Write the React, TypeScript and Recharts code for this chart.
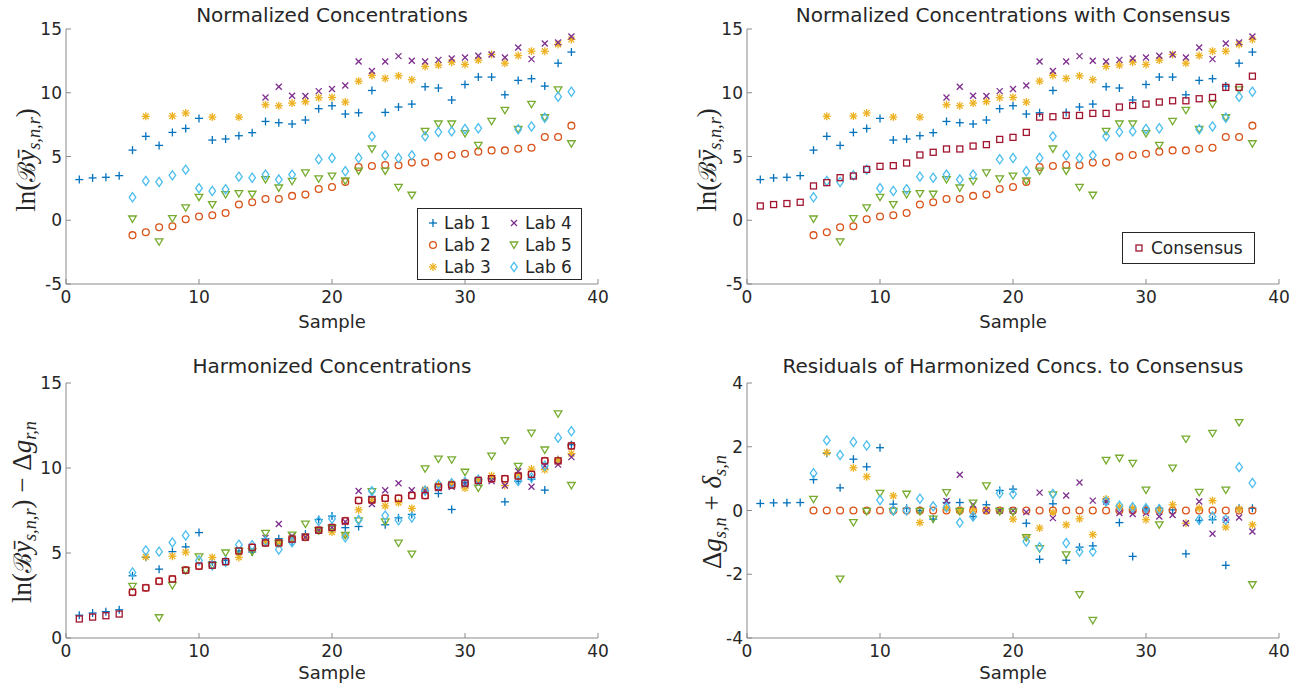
import React from 'react';
import { ScatterChart, Scatter, XAxis, YAxis } from 'recharts';

// ---------- data ----------
const samples = [1, 2, 3, 4, 5, 6, 7, 8, 9, 10, 11, 12, 13, 14, 15, 16, 17, 18, 19, 20, 21, 22, 23, 24, 25, 26, 27, 28, 29, 30, 31, 32, 33, 34, 35, 36, 37, 38];
const xTicks = [0, 10, 20, 30, 40];
const yTicksNorm = [-5, 0, 5, 10, 15];
const yTicksHarm = [0, 5, 10, 15];
const yTicksRes = [-4, -2, 0, 2, 4];

type V = number | null;
const _ = null;

// Normalized concentrations (panels 1 & 2)
const lab1Norm: V[] = [3.19, 3.32, 3.37, 3.5, 5.5, 6.58, 5.87, 6.89, 7.2, 7.99, 6.29, 6.37, 6.63, 6.87, 7.75, 7.65, 7.55, 7.86, 8.75, 8.98, 8.33, 8.43, 10.18, 8.46, 8.88, 9.11, 10.47, 10.37, 9.43, 10.65, 11.23, 11.23, 9.84, 10.97, 11.1, 10.52, 12.32, 13.19];
const lab2Norm: V[] = [_, _, _, _, -1.17, -0.94, -0.55, -0.47, 0.08, 0.29, 0.39, 0.57, 1.23, 1.41, 1.67, 1.67, 1.91, 2.01, 2.45, 2.61, 3.0, 4.18, 4.26, 4.33, 4.31, 4.52, 4.52, 4.99, 5.12, 5.22, 5.38, 5.48, 5.48, 5.61, 5.69, 6.53, 6.53, 7.42];
const lab3Norm: V[] = [_, _, _, _, _, 8.15, _, 8.17, 8.41, _, 8.09, _, 8.09, _, 9.06, 8.98, 9.19, 9.3, 9.61, 9.63, 9.27, 10.91, 11.36, 11.12, 11.33, 11.02, 12.06, 12.17, 12.4, 12.22, 12.56, 13.0, 12.32, 12.92, 13.26, 13.26, 13.79, 14.18];
const lab4Norm: V[] = [_, _, _, _, _, _, _, _, _, _, _, _, _, _, 9.63, 10.47, 9.77, 9.74, 10.13, 10.29, 10.57, 12.45, 11.7, 12.45, 12.87, 12.51, 12.45, 12.58, 12.69, 12.77, 12.9, 13.0, 12.77, 13.55, 12.64, 13.86, 13.94, 14.41];
const lab5Norm: V[] = [_, _, _, _, 0.1, _, -1.7, 0.13, 0.97, 1.8, 1.23, 2.01, 2.09, 2.04, 3.19, 2.53, 3.05, 3.71, 3.24, 3.46, 3.08, 3.86, 5.59, 3.86, 2.58, 1.96, 6.97, 7.55, 7.55, 6.79, 5.87, 7.75, 8.62, 7.13, 9.09, 8.04, 10.23, 6.0];
const lab6Norm: V[] = [_, _, _, _, 1.8, 3.08, 3.0, 3.52, 3.97, 2.51, 2.3, 2.43, 3.42, 3.34, 3.58, 3.19, 3.58, _, 4.78, 4.88, 3.84, 4.88, 6.58, 5.09, 4.88, 5.09, 6.58, 6.92, 6.97, 7.15, 7.21, _, _, 7.13, 7.36, 8.04, 9.69, 10.08];
const consensus: V[] = [1.12, 1.23, 1.31, 1.41, 2.69, 2.95, 3.34, 3.47, 3.99, 4.23, 4.28, 4.49, 5.12, 5.33, 5.59, 5.59, 5.82, 5.93, 6.34, 6.5, 6.89, 8.09, 8.12, 8.22, 8.22, 8.38, 8.38, 8.88, 9.0, 9.11, 9.27, 9.37, 9.37, 9.53, 9.63, 10.42, 10.42, 11.3];

// Harmonized concentrations (panel 3)
const lab1Harm: V[] = [1.34, 1.47, 1.55, 1.66, 3.66, 4.75, 4.05, 5.08, 5.36, 6.2, 4.48, 4.56, 5.12, 5.06, 5.84, 5.84, 5.63, 6.11, 6.97, 7.17, 6.49, 6.56, 8.33, 6.66, 7.07, 7.27, 8.66, 8.5, 7.56, 9.16, 9.34, 9.39, 8.01, 9.22, 9.34, 8.7, 10.49, 11.37];
const lab2Harm: V[] = [_, _, _, _, 2.69, 2.95, 3.34, 3.47, 3.99, 4.23, 4.28, 4.49, 5.12, 5.33, 5.59, 5.59, 5.82, 5.93, 6.34, 6.5, 6.89, 8.09, 8.12, 8.22, 8.22, 8.38, 8.38, 8.88, 9.0, 9.11, 9.27, 9.37, 9.37, 9.53, 9.63, 10.42, 10.42, 11.3];
const lab3Harm: V[] = [_, _, _, _, _, 4.77, _, 4.81, 5.05, _, 4.74, _, 4.74, _, 5.66, 5.59, 5.84, 5.93, 6.34, 6.23, 6.04, 7.54, 8.06, 7.77, 7.96, 7.62, 8.74, 9.0, 9.07, 8.82, 9.27, 9.55, 8.97, 9.6, 9.94, 9.9, 10.46, 10.85];
const lab4Harm: V[] = [_, _, _, _, _, _, _, _, _, _, _, _, _, _, 5.89, 6.71, 6.0, 5.93, 6.34, 6.5, 6.84, 8.65, 7.88, 8.69, 9.1, 8.69, 8.66, 8.8, 8.89, 9.03, 9.08, 9.23, 8.97, 9.81, 8.9, 10.13, 10.2, 10.64];
const lab5Harm: V[] = [_, _, _, _, 3.04, _, 1.19, 3.09, 3.96, 4.77, 4.25, 5.0, 5.09, 5.06, 6.15, 5.56, 6.05, 6.7, 6.31, 6.45, 6.04, 6.89, 8.61, 6.83, 5.58, 4.93, 9.95, 10.52, 10.48, 9.75, 8.82, 10.7, 11.61, 10.1, 12.05, 11.06, 13.18, 8.97];
const lab6Harm: V[] = [_, _, _, _, 3.86, 5.15, 5.08, 5.62, 6.03, 4.56, 4.28, 4.49, 5.49, 5.46, 5.69, 5.21, 5.63, _, 6.88, 7.02, 5.92, 6.94, 8.64, 7.2, 6.93, 7.09, 8.66, 9.03, 9.1, 9.18, 9.31, _, _, 9.24, 9.44, 10.13, 11.78, 12.16];

// Residuals to consensus (panel 4)
const lab1Res: V[] = [0.22, 0.24, 0.24, 0.25, 0.97, 1.8, 0.71, 1.61, 1.37, 1.97, 0.2, 0.07, 0.0, -0.27, 0.25, 0.25, -0.19, 0.18, 0.63, 0.67, -0.4, -1.53, 0.21, -1.56, -1.15, -1.11, 0.28, -0.38, -1.44, 0.05, 0.07, 0.02, -1.36, -0.31, -0.29, -1.72, 0.07, 0.07];
const lab2Res: V[] = [_, _, _, _, 0, 0, 0, 0, 0, 0, 0, 0, 0, 0, 0, 0, 0, 0, 0, 0, 0, 0, 0, 0, 0, 0, 0, 0, 0, 0, 0, 0, 0, 0, 0, 0, 0, 0];
const lab3Res: V[] = [_, _, _, _, _, 1.82, _, 1.34, 1.06, _, 0.46, _, -0.38, _, 0.07, 0.0, 0.02, 0.0, 0.0, -0.27, -0.85, -0.55, -0.06, -0.45, -0.26, -0.76, 0.36, 0.12, 0.07, -0.29, 0.0, 0.18, -0.4, 0.07, 0.31, -0.52, 0.04, -0.45];
const lab4Res: V[] = [_, _, _, _, _, _, _, _, _, _, _, _, _, _, 0.3, 1.12, 0.18, 0.0, 0.0, 0.0, -0.05, 0.56, -0.24, 0.47, 0.88, 0.31, 0.28, -0.08, -0.11, -0.08, -0.19, -0.14, -0.4, 0.28, -0.73, -0.29, -0.22, -0.66];
const lab5Res: V[] = [_, _, _, _, 0.35, _, -2.15, -0.38, -0.03, 0.54, -0.03, 0.51, -0.03, -0.27, 0.56, -0.03, 0.23, 0.77, -0.03, -0.05, -0.85, -1.2, 0.49, -1.39, -2.64, -3.45, 1.57, 1.64, 1.48, 0.64, -0.45, 1.33, 2.24, 0.57, 2.42, 0.64, 2.76, -2.33];
const lab6Res: V[] = [_, _, _, _, 1.17, 2.2, 1.74, 2.15, 2.04, 0.33, 0.0, 0.0, 0.37, 0.13, 0.1, -0.38, -0.19, _, 0.54, 0.52, -0.97, -1.15, 0.52, -1.02, -1.29, -1.29, 0.28, 0.15, 0.1, 0.07, 0.04, _, _, -0.29, -0.19, -0.29, 1.36, 0.86];

const labNames = ['Lab 1', 'Lab 2', 'Lab 3', 'Lab 4', 'Lab 5', 'Lab 6'];

// ---------- styling ----------
const C1 = '#0072BD';
const C2 = '#D95319';
const C3 = '#EDB120';
const C4 = '#7E2F8E';
const C5 = '#77AC30';
const C6 = '#4DBEEE';
const C7 = '#A2142F';
const AXIS = '#8a8a8a';
const TEXT = '#262626';
const FONT = '"DejaVu Sans", sans-serif';
const MATH = '"Liberation Serif", "DejaVu Serif", serif';

type Kind = 'plus' | 'circle' | 'star' | 'cross' | 'tri' | 'diamond' | 'square';
const kinds: Kind[] = ['plus', 'circle', 'star', 'cross', 'tri', 'diamond'];
const colors = [C1, C2, C3, C4, C5, C6];

function Marker({ kind, cx, cy, color }: { kind: Kind; cx: number; cy: number; color: string }) {
  const sw = 1.3;
  switch (kind) {
    case 'plus':
      return (
        <g stroke={color} strokeWidth={sw} fill="none">
          <line x1={cx - 4} y1={cy} x2={cx + 4} y2={cy} />
          <line x1={cx} y1={cy - 4} x2={cx} y2={cy + 4} />
        </g>
      );
    case 'circle':
      return <circle cx={cx} cy={cy} r={3.4} fill="none" stroke={color} strokeWidth={sw} />;
    case 'star':
      return (
        <g stroke={color} strokeWidth={sw} fill="none">
          <line x1={cx - 4} y1={cy} x2={cx + 4} y2={cy} />
          <line x1={cx} y1={cy - 4} x2={cx} y2={cy + 4} />
          <line x1={cx - 2.9} y1={cy - 2.9} x2={cx + 2.9} y2={cy + 2.9} />
          <line x1={cx - 2.9} y1={cy + 2.9} x2={cx + 2.9} y2={cy - 2.9} />
        </g>
      );
    case 'cross':
      return (
        <g stroke={color} strokeWidth={sw} fill="none">
          <line x1={cx - 3} y1={cy - 3} x2={cx + 3} y2={cy + 3} />
          <line x1={cx - 3} y1={cy + 3} x2={cx + 3} y2={cy - 3} />
        </g>
      );
    case 'tri':
      return (
        <polygon
          points={`${cx - 3.8},${cy - 3} ${cx + 3.8},${cy - 3} ${cx},${cy + 3.4}`}
          fill="none"
          stroke={color}
          strokeWidth={sw}
        />
      );
    case 'diamond':
      return (
        <polygon
          points={`${cx},${cy - 4.6} ${cx + 3.3},${cy} ${cx},${cy + 4.6} ${cx - 3.3},${cy}`}
          fill="none"
          stroke={color}
          strokeWidth={sw}
        />
      );
    case 'square':
      return <rect x={cx - 3} y={cy - 3} width={6} height={6} fill="none" stroke={color} strokeWidth={sw} />;
  }
  return null;
}

const toPoints = (vals: V[]) =>
  samples.map((s, i) => ({ x: s, y: vals[i] })).filter((p) => p.y !== null) as { x: number; y: number }[];

type Series = { vals: V[]; kind: Kind; color: string; name: string };

const makeLabs = (arrs: V[][]): Series[] =>
  arrs.map((a, i) => ({ vals: a, kind: kinds[i], color: colors[i], name: labNames[i] }));

const W = 620;
const H = 340;

function Panel({
  left,
  top,
  domain,
  ticks,
  series,
}: {
  left: number;
  top: number;
  domain: [number, number];
  ticks: number[];
  series: Series[];
}) {
  const tickStyle = { fill: TEXT, fontSize: 17, fontFamily: FONT };
  return (
    <div style={{ position: 'absolute', left, top, width: W, height: H }}>
      <ScatterChart width={W} height={H} margin={{ top: 29, right: 22, bottom: 26, left: 26 }}>
        <XAxis
          type="number"
          dataKey="x"
          domain={[0, 40]}
          ticks={xTicks}
          allowDataOverflow
          height={30}
          tickSize={-5}
          tickMargin={12}
          axisLine={{ stroke: AXIS }}
          tickLine={{ stroke: AXIS }}
          tick={tickStyle}
        />
        <XAxis
          xAxisId="top"
          orientation="top"
          type="number"
          domain={[0, 40]}
          ticks={xTicks}
          allowDataOverflow
          height={0}
          tickSize={-5}
          axisLine={{ stroke: AXIS }}
          tickLine={{ stroke: AXIS }}
          tick={false}
        />
        <YAxis
          type="number"
          dataKey="y"
          domain={domain}
          ticks={ticks}
          allowDataOverflow
          width={40}
          tickSize={-5}
          tickMargin={9}
          axisLine={{ stroke: AXIS }}
          tickLine={{ stroke: AXIS }}
          tick={tickStyle}
        />
        <YAxis
          yAxisId="right"
          orientation="right"
          type="number"
          domain={domain}
          ticks={ticks}
          allowDataOverflow
          width={0}
          tickSize={-5}
          axisLine={{ stroke: AXIS }}
          tickLine={{ stroke: AXIS }}
          tick={false}
        />
        {series.map((s) => (
          <Scatter
            key={s.name}
            name={s.name}
            data={toPoints(s.vals)}
            isAnimationActive={false}
            shape={(p: any) => <Marker kind={s.kind} cx={p.cx} cy={p.cy} color={s.color} />}
          />
        ))}
      </ScatterChart>
    </div>
  );
}

function Title({ text, cx, cy }: { text: string; cx: number; cy: number }) {
  return (
    <div
      style={{
        position: 'absolute',
        left: cx,
        top: cy,
        transform: 'translate(-50%, -50%)',
        whiteSpace: 'nowrap',
        fontFamily: FONT,
        fontSize: 20,
        color: TEXT,
        lineHeight: 1,
      }}
    >
      {text}
    </div>
  );
}

function XLabel({ cx, cy }: { cx: number; cy: number }) {
  return (
    <div
      style={{
        position: 'absolute',
        left: cx,
        top: cy,
        transform: 'translate(-50%, -50%)',
        whiteSpace: 'nowrap',
        fontFamily: FONT,
        fontSize: 18,
        color: TEXT,
        lineHeight: 1,
      }}
    >
      Sample
    </div>
  );
}

function YLabel({ cx, cy, children }: { cx: number; cy: number; children: React.ReactNode }) {
  return (
    <div
      style={{
        position: 'absolute',
        left: cx,
        top: cy,
        transform: 'translate(-50%, -50%) rotate(-90deg)',
        whiteSpace: 'nowrap',
        fontFamily: MATH,
        fontSize: 27,
        color: TEXT,
        lineHeight: 1,
      }}
    >
      {children}
    </div>
  );
}

const subStyle: React.CSSProperties = { fontSize: '0.68em', fontStyle: 'italic', verticalAlign: '-0.3em' };

function LnBy() {
  return (
    <span>
      ln(<span style={{ fontFamily: '"DejaVu Serif", serif', fontSize: '0.9em' }}>ℬ</span>
      <i>ȳ</i>
      <span style={subStyle}>s,n,r</span>)
    </span>
  );
}

function LegendMarker({ kind, color }: { kind: Kind; color: string }) {
  return (
    <svg width={14} height={14} style={{ display: 'block' }}>
      <Marker kind={kind} cx={7} cy={7} color={color} />
    </svg>
  );
}

function LegendBox() {
  const order = [0, 3, 1, 4, 2, 5];
  return (
    <div
      style={{
        position: 'absolute',
        left: 417,
        top: 208,
        width: 165,
        height: 72,
        boxSizing: 'border-box',
        border: `1px solid ${TEXT}`,
        background: '#fff',
      }}
    >
      {order.map((idx, k) => {
        const col = k % 2;
        const row = Math.floor(k / 2);
        return (
          <div
            key={idx}
            style={{
              position: 'absolute',
              left: col === 0 ? 8 : 89,
              top: 3 + row * 22,
              height: 22,
              display: 'flex',
              alignItems: 'center',
              gap: 4,
              fontFamily: FONT,
              fontSize: 17,
              color: TEXT,
              whiteSpace: 'nowrap',
            }}
          >
            <LegendMarker kind={kinds[idx]} color={colors[idx]} />
            <span>{labNames[idx]}</span>
          </div>
        );
      })}
    </div>
  );
}

function ConsensusLegend() {
  return (
    <div
      style={{
        position: 'absolute',
        left: 1122,
        top: 232,
        width: 133,
        height: 32,
        boxSizing: 'border-box',
        border: `1px solid ${TEXT}`,
        background: '#fff',
        display: 'flex',
        alignItems: 'center',
        gap: 5,
        paddingLeft: 9,
        fontFamily: FONT,
        fontSize: 17,
        color: TEXT,
      }}
    >
      <LegendMarker kind="square" color={C7} />
      <span>Consensus</span>
    </div>
  );
}

export default function App() {
  const normLabs = makeLabs([lab1Norm, lab2Norm, lab3Norm, lab4Norm, lab5Norm, lab6Norm]);
  const consSeries: Series = { vals: consensus, kind: 'square', color: C7, name: 'Consensus' };
  const harmLabs = makeLabs([lab1Harm, lab2Harm, lab3Harm, lab4Harm, lab5Harm, lab6Harm]);
  const resLabs = makeLabs([lab1Res, lab2Res, lab3Res, lab4Res, lab5Res, lab6Res]);

  return (
    <div style={{ position: 'absolute', left: 0, top: 0, width: 1316, height: 692, background: '#fff', overflow: 'hidden' }}>
      <Panel left={0} top={0} domain={[-5, 15]} ticks={yTicksNorm} series={normLabs} />
      <Panel left={681} top={0} domain={[-5, 15]} ticks={yTicksNorm} series={[...normLabs, consSeries]} />
      <Panel left={0} top={354} domain={[0, 15]} ticks={yTicksHarm} series={[...harmLabs, consSeries]} />
      <Panel left={681} top={354} domain={[-4, 4]} ticks={yTicksRes} series={resLabs} />

      <Title text="Normalized Concentrations" cx={332} cy={15} />
      <Title text="Normalized Concentrations with Consensus" cx={1013} cy={15} />
      <Title text="Harmonized Concentrations" cx={332} cy={366} />
      <Title text="Residuals of Harmonized Concs. to Consensus" cx={1013} cy={366} />

      <XLabel cx={332} cy={322} />
      <XLabel cx={1013} cy={322} />
      <XLabel cx={332} cy={673} />
      <XLabel cx={1013} cy={673} />

      <YLabel cx={28} cy={160}>
        <LnBy />
      </YLabel>
      <YLabel cx={709} cy={160}>
        <LnBy />
      </YLabel>
      <YLabel cx={24} cy={512}>
        <span>
          <LnBy /> − Δ<i>g</i>
          <span style={subStyle}>r,n</span>
        </span>
      </YLabel>
      <YLabel cx={714} cy={512}>
        <span>
          Δ<i>g</i>
          <span style={subStyle}>s,n</span> + <i>δ</i>
          <span style={subStyle}>s,n</span>
        </span>
      </YLabel>

      <LegendBox />
      <ConsensusLegend />
    </div>
  );
}
